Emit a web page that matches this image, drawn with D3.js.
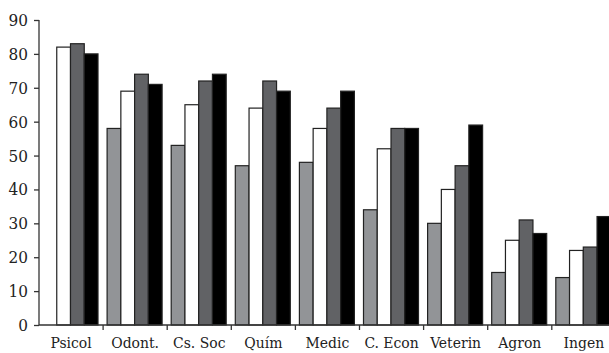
<!DOCTYPE html>
<html>
<head>
<meta charset="utf-8">
<script src="https://cdn.jsdelivr.net/npm/d3@7"></script>
<style>
html,body{margin:0;padding:0;background:#fff;overflow:hidden;}
svg{display:block;}
</style>
</head>
<body>
<svg id="chart" width="609" height="353"></svg>
<script>
const categories = ["Psicol","Odont.","Cs. Soc","Quím","Medic","C. Econ","Veterin","Agron","Ingen"];
const seriesNames = ["s1","s2","s3","s4"];
const s1 = [null,58,53,47,48,34,30,15.5,14];
const s2 = [82,69,65,64,58,52,40,25,22];
const s3 = [83,74,72,72,64,58,47,31,23];
const s4 = [80,71,74,69,69,58,59,27,32];
const yTicks = [0,10,20,30,40,50,60,70,80,90];
const colors = ["#929497","#ffffff","#616265","#000000"];

const FONT = "DejaVu Serif Condensed, DejaVu Serif, serif";
const seriesVals = [s1,s2,s3,s4];
const svg = d3.select("#chart");
const x0 = d3.scaleBand().domain(categories).range([39, 39 + 9*64.1]).padding(0);
const x1 = d3.scaleBand().domain(seriesNames).range([4, 59]).padding(0);
const y = d3.scaleLinear().domain([0,90]).range([325,20]);

const groups = svg.append("g").selectAll("g").data(categories).join("g")
  .attr("transform", d => `translate(${x0(d)},0)`);
groups.selectAll("rect").data((c,i) => seriesNames.map((s,j) => ({s, j, v: seriesVals[j][i]})).filter(d => d.v != null))
  .join("rect")
  .attr("x", d => x1(d.s))
  .attr("width", x1.bandwidth())
  .attr("y", d => y(d.v))
  .attr("height", d => y(0) - y(d.v))
  .attr("fill", d => colors[d.j])
  .attr("stroke", "#222")
  .attr("stroke-width", 1.2);

// y axis
const yAxis = svg.append("g").attr("transform","translate(39,0)")
  .call(d3.axisLeft(y).tickValues(yTicks).tickSize(5).tickPadding(6));
yAxis.attr("font-family", FONT);
yAxis.select(".domain").attr("stroke","#333").attr("stroke-width",1.3).attr("d","M0,"+y(90)+"V"+y(0));
yAxis.selectAll(".tick line").attr("stroke","#333").attr("stroke-width",1.3);
yAxis.selectAll("text").attr("font-size",17).attr("fill","#222").attr("font-family",FONT);

// x axis
const xAxis = svg.append("g").attr("transform",`translate(0,${y(0)})`);
xAxis.append("line").attr("x1",39).attr("x2",609).attr("stroke","#333").attr("stroke-width",1.3);
xAxis.selectAll("line.tk").data(categories.slice(1)).join("line").attr("class","tk")
  .attr("x1", d => x0(d)).attr("x2", d => x0(d)).attr("y1",0).attr("y2",5)
  .attr("stroke","#333").attr("stroke-width",1.3);
xAxis.selectAll("text").data(categories).join("text")
  .attr("x", d => x0(d) + x0.bandwidth()/2)
  .attr("y", 23)
  .attr("text-anchor","middle")
  .attr("font-size",15.5)
  .attr("font-family",FONT)
  .attr("fill","#222")
  .text(d => d);
</script>
</body>
</html>
